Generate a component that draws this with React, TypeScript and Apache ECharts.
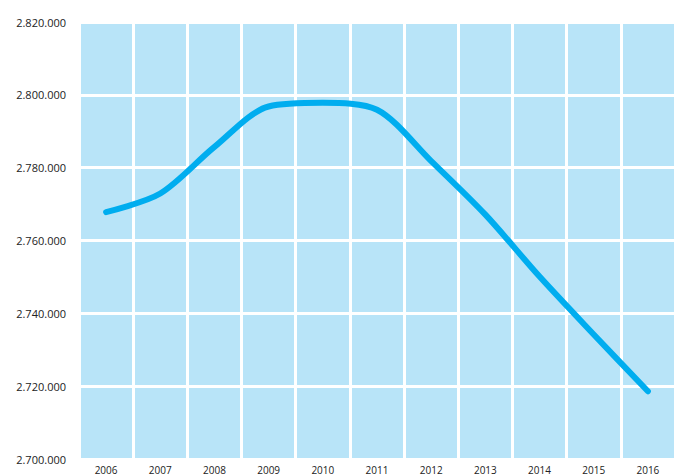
import React, { useEffect, useRef } from "react";
import * as echarts from "echarts";

const years = ["2006", "2007", "2008", "2009", "2010", "2011", "2012", "2013", "2014", "2015", "2016"];
const population = [2767800, 2772900, 2785700, 2796800, 2797800, 2795900, 2781800, 2767100, 2750100, 2734200, 2718600];

const fmt = (v: number) => String(v).replace(/\B(?=(\d{3})+(?!\d))/g, ".");

export default function App() {
  const ref = useRef<HTMLDivElement>(null);
  useEffect(() => {
    const chart = echarts.init(ref.current!, null, { renderer: "svg" });
    chart.setOption({
      animation: false,
      grid: {
        left: 79,
        top: 22,
        right: -6,
        bottom: 16,
        show: true,
        backgroundColor: "#b8e4f8",
        borderWidth: 0,
      },
      xAxis: {
        type: "category",
        data: years,
        boundaryGap: true,
        axisLine: { show: false },
        axisTick: { show: false },
        axisLabel: { color: "#222", fontSize: 10, fontFamily: "Open Sans", margin: 6, interval: 0 },
        splitLine: { show: true, interval: 0, lineStyle: { color: "#ffffff", width: 3 } },
      },
      yAxis: {
        type: "value",
        min: 2700000,
        max: 2820000,
        interval: 20000,
        axisLine: { show: false },
        axisTick: { show: false },
        axisLabel: { color: "#222", fontSize: 11, fontFamily: "Open Sans", margin: 13, formatter: (v: number) => fmt(v) },
        splitLine: { show: true, lineStyle: { color: "#ffffff", width: 3 } },
      },
      series: [
        {
          type: "line",
          data: population,
          smooth: 0.3,
          showSymbol: false,
          lineStyle: { color: "#00adef", width: 6, cap: "round", join: "round" },
        },
      ],
    });
    return () => chart.dispose();
  }, []);
  return <div ref={ref} style={{ width: 675, height: 475, position: "absolute", left: 0, top: 0 }} />;
}
